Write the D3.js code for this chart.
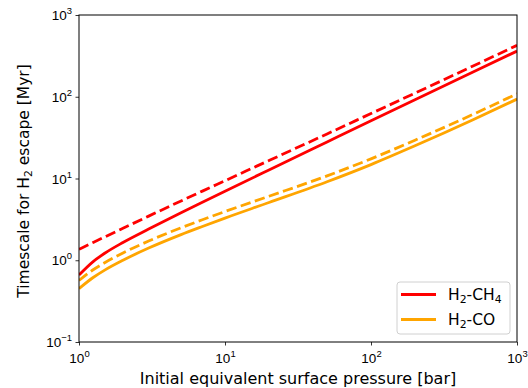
<!DOCTYPE html>
<html>
<head>
<meta charset="utf-8">
<script src="https://cdn.jsdelivr.net/npm/d3@7"></script>
<style>
  body { margin: 0; background: #fff; }
  svg { font-family: "DejaVu Sans", sans-serif; }
</style>
</head>
<body>
<div id="chart"></div>
<script>
// pressures [bar] and escape timescales [Myr]
const pressure  = [1, 1.25, 1.5, 2, 3, 5, 7, 10, 20, 50, 100, 200, 500, 1000];
const ch4Solid  = [0.66, 0.964, 1.218, 1.65, 2.406, 3.81, 5.12, 6.99, 12.73, 28.0, 50.8, 91.9, 200.7, 362];
const ch4Dashed = [1.36, 1.65, 1.928, 2.461, 3.467, 5.311, 7.01, 9.39, 16.58, 35.1, 62.3, 110.6, 237.8, 425.6];
const coSolid   = [0.45, 0.615, 0.758, 1.0, 1.41, 2.06, 2.59, 3.28, 5.08, 9.13, 14.8, 25.1, 52.3, 93.6];
const coDashed  = [0.566, 0.765, 0.933, 1.227, 1.718, 2.495, 3.13, 3.945, 6.06, 10.77, 17.4, 29.4, 60.9, 108.7];
const legendNames = ["H2-CH4", "H2-CO"];

const width = 528, height = 388;
const margin = { left: 79, right: 11, top: 15, bottom: 46 };

const x = d3.scaleLog().domain([1, 1000]).range([margin.left, width - margin.right]);
const y = d3.scaleLog().domain([0.1, 1000]).range([height - margin.bottom, margin.top]);

const svg = d3.select("#chart").append("svg")
    .attr("width", width)
    .attr("height", height);

const series = [
    { values: ch4Dashed, color: "red",    dash: "10.4,4.5" },
    { values: ch4Solid,  color: "red",    dash: null },
    { values: coDashed,  color: "orange", dash: "10.4,4.5" },
    { values: coSolid,   color: "orange", dash: null }
];

const line = d3.line()
    .curve(d3.curveMonotoneX)
    .x(d => x(d[0]))
    .y(d => y(d[1]));

svg.append("defs").append("clipPath").attr("id", "clip")
  .append("rect")
    .attr("x", margin.left).attr("y", margin.top)
    .attr("width", width - margin.left - margin.right)
    .attr("height", height - margin.top - margin.bottom);

svg.append("g")
    .attr("clip-path", "url(#clip)")
  .selectAll("path")
  .data(series)
  .join("path")
    .attr("fill", "none")
    .attr("stroke", d => d.color)
    .attr("stroke-width", 2.8)
    .attr("stroke-dasharray", d => d.dash)
    .attr("d", d => line(pressure.map((p, i) => [p, d.values[i]])));

// superscript tick labels like 10^2
function powerLabel(sel) {
    sel.each(function (d) {
        const t = d3.select(this).text("");
        t.append("tspan").text("10");
        t.append("tspan")
            .attr("dy", -6)
            .attr("font-size", "0.7em")
            .text(Math.round(Math.log10(d)).toString().replace("-", "\u2212"));
    });
}

const xMajor = [1, 10, 100, 1000];
const xMinor = d3.range(0, 3).flatMap(e => d3.range(2, 10).map(m => m * 10 ** e));
const yMajor = [0.1, 1, 10, 100, 1000];
const yMinor = d3.range(-1, 3).flatMap(e => d3.range(2, 10).map(m => m * 10 ** e));

const gx = svg.append("g")
    .attr("transform", `translate(0,${height - margin.bottom})`);
gx.call(d3.axisBottom(x).tickValues(xMinor).tickSize(2).tickFormat(""));
gx.call(d3.axisBottom(x).tickValues(xMajor).tickSize(3.5))
    .selectAll(".tick text")
    .attr("font-size", 13.5).attr("fill", "#000")
    .call(powerLabel)
    .attr("y", 21).attr("dy", 0);

const gy = svg.append("g")
    .attr("transform", `translate(${margin.left},0)`);
gy.call(d3.axisLeft(y).tickValues(yMinor).tickSize(2).tickFormat(""));
gy.call(d3.axisLeft(y).tickValues(yMajor).tickSize(3.5).tickPadding(3.5))
    .selectAll(".tick text")
    .attr("font-size", 13.5).attr("fill", "#000")
    .call(powerLabel)
    .attr("dy", "0.35em");

svg.selectAll(".domain").remove();
svg.selectAll(".tick line").attr("stroke", "#000").attr("stroke-width", 0.8);

// frame
svg.append("rect")
    .attr("x", margin.left).attr("y", margin.top)
    .attr("width", width - margin.left - margin.right)
    .attr("height", height - margin.top - margin.bottom)
    .attr("fill", "none")
    .attr("stroke", "#000")
    .attr("stroke-width", 1);

// axis titles
svg.append("text")
    .attr("x", (margin.left + width - margin.right) / 2)
    .attr("y", 384)
    .attr("text-anchor", "middle")
    .attr("font-size", 16)
    .text("Initial equivalent surface pressure [bar]");

const yt = svg.append("text")
    .attr("transform", "translate(29,181) rotate(-90)")
    .attr("text-anchor", "middle")
    .attr("font-size", 15.5);
yt.append("tspan").text("Timescale for H");
yt.append("tspan").attr("dy", 2.5).attr("font-size", "0.7em").text("2");
yt.append("tspan").attr("dy", -2.5).text(" escape [Myr]");

// legend
const legend = svg.append("g").attr("transform", "translate(397,282)");
legend.append("rect")
    .attr("width", 113).attr("height", 52)
    .attr("rx", 3)
    .attr("fill", "#fff").attr("fill-opacity", 0.8)
    .attr("stroke", "#d0d0d0");

const items = legend.selectAll("g.item")
    .data([{ name: legendNames[0], color: "red" }, { name: legendNames[1], color: "orange" }])
    .join("g")
    .attr("class", "item")
    .attr("transform", (d, i) => `translate(0,${12.5 + i * 25})`);

items.append("line")
    .attr("x1", 4).attr("x2", 39)
    .attr("stroke", d => d.color)
    .attr("stroke-width", 2.8);

items.append("text")
    .attr("x", 51).attr("dy", "0.36em")
    .attr("font-size", 15.5)
    .each(function (d) {
        const t = d3.select(this);
        const rest = d.name.split("-")[1];
        t.append("tspan").text("H");
        t.append("tspan").attr("dy", 2.5).attr("font-size", "0.7em").text("2");
        t.append("tspan").attr("dy", -2.5).text("-" + rest.replace(/\d/, ""));
        const num = rest.match(/\d/);
        if (num) t.append("tspan").attr("dy", 2.5).attr("font-size", "0.7em").text(num[0]);
    });
</script>
</body>
</html>
